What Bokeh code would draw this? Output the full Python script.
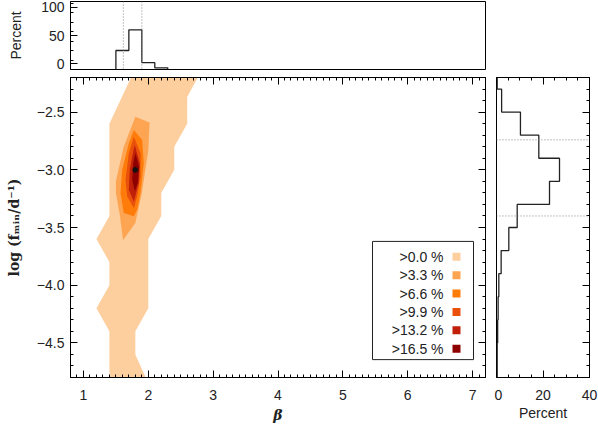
import numpy as np
from bokeh.plotting import figure
from bokeh.layouts import column, row
from bokeh.models import (Range1d, LinearAxis, FixedTicker, Span, BoxAnnotation, Label,
                          CustomJSTickFormatter, Whisker, TeeHead, ColumnDataSource)
from bokeh.embed import file_html
from bokeh.resources import INLINE

# ---------------- data ----------------
beta_edges = [1.5, 1.7, 1.9, 2.1, 2.3]
beta_pct = [23.5, 60.0, 2.0, -7.0]

logf_edges = [-4.9, -4.7, -4.5, -4.3, -4.1, -3.9, -3.7, -3.5, -3.3, -3.1, -2.9, -2.7, -2.5, -2.3, -2.1]
logf_pct = [0.3, 0.3, 0.5, 0.7, 1.0, 2.0, 5.3, 8.9, 22.8, 27.1, 18.2, 10.3, 2.2, 0.3]

beta_best, beta_lo, beta_hi = 1.80, 1.615, 1.90
logf_best, logf_lo, logf_hi = -3.00, -3.40, -2.74

level_labels = [">0.0 %", ">3.3 %", ">6.6 %", ">9.9 %", ">13.2 %", ">16.5 %"]
level_colors = ["#FECF9E", "#FDA552", "#FF7C0A", "#E8500C", "#C0200A", "#8E0000"]

contour_x = [
    [1.75, 1.40, 1.40, 1.20, 1.40, 1.40, 1.20, 1.40, 1.40, 1.96, 1.80, 1.80, 2.00, 2.00, 2.20, 2.20, 2.40, 2.40, 2.60, 2.60, 2.78],
    [1.80, 2.02, 2.00, 1.90, 1.80, 1.61, 1.56, 1.50, 1.50, 1.62],
    [1.777, 1.906, 1.93, 1.88, 1.828, 1.777, 1.622, 1.571, 1.597, 1.70],
    [1.777, 1.88, 1.88, 1.828, 1.777, 1.674, 1.648, 1.70],
    [1.79, 1.869, 1.854, 1.777, 1.70, 1.715, 1.751],
    [1.802, 1.859, 1.838, 1.792, 1.751, 1.767],
]
contour_y = [
    [-2.18, -2.60, -3.40, -3.60, -3.80, -4.00, -4.20, -4.40, -4.80, -4.80, -4.60, -4.40, -4.20, -3.60, -3.40, -3.20, -3.00, -2.80, -2.60, -2.37, -2.18],
    [-2.54, -2.59, -2.83, -3.20, -3.46, -3.61, -3.39, -3.20, -3.10, -2.80],
    [-2.656, -2.742, -2.943, -3.20, -3.345, -3.403, -3.374, -3.20, -3.00, -2.77],
    [-2.714, -2.857, -3.06, -3.23, -3.33, -3.23, -3.087, -2.857],
    [-2.785, -2.943, -3.115, -3.274, -3.173, -3.00, -2.886],
    [-2.857, -2.972, -3.115, -3.187, -3.087, -2.943],
]

# ---------------- style ----------------
SANS = "Liberation Sans"
SERIF = "DejaVu Serif"
FS = "14px"
X_RANGE = (0.8, 7.2)
Y_RANGE = (-4.8, -2.2)
TH_RANGE = (-10.0, 110.0)
RH_RANGE = (0.0, 40.0)

minus_fmt = CustomJSTickFormatter(code="return tick.toFixed(1).replace('-', '\u2212');")
int_fmt = CustomJSTickFormatter(code="return tick.toFixed(0);")
blank_fmt = CustomJSTickFormatter(code="return '';")


def style_axis(ax, major, minor, labels=True, fmt=None):
    ax.ticker = FixedTicker(ticks=list(major), minor_ticks=list(minor))
    ax.major_tick_in = 7
    ax.major_tick_out = 0
    ax.minor_tick_in = 3
    ax.minor_tick_out = 0
    ax.axis_line_color = "black"
    ax.major_tick_line_color = "black"
    ax.minor_tick_line_color = "black"
    ax.major_label_text_font = SANS
    ax.major_label_text_font_size = FS
    ax.major_label_text_color = "#222222"
    ax.axis_label_text_font = SANS
    ax.axis_label_text_font_size = FS
    ax.axis_label_text_font_style = "normal"
    ax.axis_label_text_color = "#222222"
    if labels:
        ax.formatter = fmt
    else:
        ax.formatter = blank_fmt
        ax.major_label_standoff = 0
        ax.major_label_text_font_size = "1px"


x_major = np.arange(1, 8, 1.0)
x_minor = np.round(np.arange(0.8, 7.21, 0.1), 2)
y_major = np.arange(-4.5, -2.4, 0.5)
y_minor = np.round(np.arange(-4.8, -2.19, 0.1), 2)

# ---------------- top histogram ----------------
top = figure(width=494, height=77, x_range=Range1d(*X_RANGE), y_range=Range1d(*TH_RANGE),
             output_backend="svg", toolbar_location=None, x_axis_location=None,
             min_border_left=70, min_border_right=9, min_border_top=1, min_border_bottom=8)
top.grid.visible = False
top.outline_line_color = "black"
style_axis(top.yaxis[0], [0, 50, 100], np.arange(-10, 111, 50 / 3), True, int_fmt)
top.yaxis[0].axis_label = "Percent"
top.yaxis[0].major_label_standoff = 6
top.yaxis[0].axis_label_standoff = 14

bx, by = [beta_edges[0]], [TH_RANGE[0]]
for i, v in enumerate(beta_pct):
    bx += [beta_edges[i], beta_edges[i + 1]]
    by += [v, v]
bx.append(beta_edges[-1]); by.append(TH_RANGE[0])
top.line(bx, by, line_color="#222222", line_width=1.3)
for loc in (beta_lo, beta_hi):
    top.add_layout(Span(location=loc, dimension="height", line_color="#888888",
                        line_dash="1 2", line_width=1))

# ---------------- main panel ----------------
main = figure(width=494, height=348, x_range=top.x_range, y_range=Range1d(*Y_RANGE),
              output_backend="svg", toolbar_location=None,
              min_border_left=70, min_border_right=9, min_border_top=0, min_border_bottom=46)
main.grid.visible = False
main.outline_line_color = "black"

for xs, ys, c in zip(contour_x, contour_y, level_colors):
    main.patch(xs, ys, fill_color=c, line_color=None)

src = ColumnDataSource(dict(bx=[beta_best], by=[logf_best], ylo=[logf_lo], yhi=[logf_hi],
                            xlo=[beta_lo], xhi=[beta_hi]))
for dim, base, lo, hi in (("height", "bx", "ylo", "yhi"), ("width", "by", "xlo", "xhi")):
    main.add_layout(Whisker(source=src, base=base, lower=lo, upper=hi, dimension=dim,
                            line_color="#111111", line_width=1.5,
                            upper_head=TeeHead(size=7, line_color="#111111", line_width=1.5),
                            lower_head=TeeHead(size=7, line_color="#111111", line_width=1.5)))
main.scatter([beta_best], [logf_best], marker="asterisk", size=6, line_color="#111111", line_width=1.5)

style_axis(main.xaxis[0], x_major, x_minor, True, int_fmt)
main.xaxis[0].axis_label = "β"
main.xaxis[0].axis_label_text_font = SERIF
main.xaxis[0].axis_label_text_font_style = "bold italic"
main.xaxis[0].axis_label_text_font_size = "14px"
main.xaxis[0].major_label_standoff = 12
main.xaxis[0].axis_label_standoff = 4
style_axis(main.yaxis[0], y_major, y_minor, True, minus_fmt)
main.yaxis[0].axis_label = "log (f\u2098\u1d62\u2099/d\u207b\u00b9)"
main.yaxis[0].axis_label_text_font = SERIF
main.yaxis[0].axis_label_text_font_size = "14px"
main.yaxis[0].axis_label_text_font_style = "bold"
main.yaxis[0].major_label_standoff = 6
main.yaxis[0].axis_label_standoff = 12
ax_top = LinearAxis(); style_axis(ax_top, x_major, x_minor, False)
main.add_layout(ax_top, "above")
ax_right = LinearAxis(); style_axis(ax_right, y_major, y_minor, False)
main.add_layout(ax_right, "right")

# pixel -> data helpers for legend placement
FRAME_W, FRAME_H = 415.0, 302.0
def px2x(px):
    return X_RANGE[0] + px * (X_RANGE[1] - X_RANGE[0]) / FRAME_W
def px2y(py):
    return Y_RANGE[1] - py * (Y_RANGE[1] - Y_RANGE[0]) / FRAME_H

main.add_layout(BoxAnnotation(left=px2x(302), right=px2x(403), top=px2y(165), bottom=px2y(284),
                              fill_color="white", fill_alpha=1.0, line_color="#222222",
                              line_width=1, line_alpha=1.0))
for i, (lab, c) in enumerate(zip(level_labels, level_colors)):
    cy = 180.5 + i * 18.5
    main.add_layout(Label(x=px2x(373), y=px2y(cy), text=lab, text_align="right",
                          text_baseline="middle", text_font=SANS, text_font_size="14px",
                          text_color="#222222"))
    main.add_layout(BoxAnnotation(left=px2x(382), right=px2x(390), top=px2y(cy - 4),
                                  bottom=px2y(cy + 4), fill_color=c, fill_alpha=1.0,
                                  line_color=None))

# ---------------- right histogram ----------------
right = figure(width=104, height=348, x_range=Range1d(*RH_RANGE), y_range=main.y_range,
               output_backend="svg", toolbar_location=None, y_axis_location="right",
               min_border_left=2, min_border_right=9, min_border_top=0, min_border_bottom=46)
right.grid.visible = False
right.outline_line_color = "black"
style_axis(right.xaxis[0], [0, 20, 40], np.arange(0, 41, 5), True, int_fmt)
right.xaxis[0].axis_label = "Percent"
right.xaxis[0].major_label_standoff = 12
right.xaxis[0].axis_label_standoff = 2
style_axis(right.yaxis[0], y_major, y_minor, False)
ax_rt = LinearAxis(); style_axis(ax_rt, [0, 20, 40], np.arange(0, 41, 5), False)
right.add_layout(ax_rt, "above")

rx, ry = [], []
for i, v in enumerate(logf_pct):
    rx += [v, v]
    ry += [logf_edges[i], logf_edges[i + 1]]
right.line(rx, ry, line_color="#222222", line_width=1.3)
for loc in (logf_lo, logf_hi):
    right.add_layout(Span(location=loc, dimension="width", line_color="#888888",
                          line_dash="1 2", line_width=1))

layout = column(top, row(main, right, spacing=0), spacing=0)

html = file_html(layout, INLINE)
open("out.html", "w").write(html)
